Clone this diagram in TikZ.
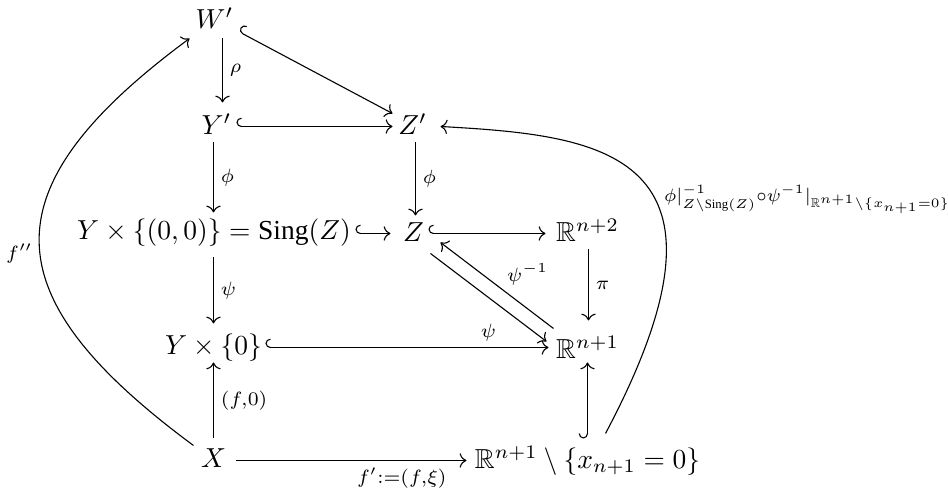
\documentclass[tikz,border=0pt]{standalone}
\usepackage{amssymb}
\usepackage{fontspec}
\setmainfont{Liberation Serif}
\usetikzlibrary{arrows.meta}

\begin{document}
\begin{tikzpicture}[
    x=0.3636pt, y=-0.3636pt,
    every node/.style={inner sep=0pt},
    lbl/.style={inner sep=2.5pt, execute at begin node=$\scriptstyle,
                execute at end node=$},
    ar/.style={->},
    hookar/.style={{Hooks[right,length=1.8pt,width=6.4pt]}->},
]
\useasboundingbox (-0.5,-0.5) rectangle (947.5,491.5);

% objects
\node (W)  at (214,18)   {$W'$};
\node (Yp) at (216,124)  {$Y'$};
\node (Zp) at (412,124)  {$Z'$};
\node (S)  at (213.5,232) {$Y\times\{(0,0)\}=\mathrm{Sing}(Z)$};
\node (Z)  at (413,232)  {$Z$};
\node (R2) at (587,230)  {$\mathbb{R}^{n+2}$};
\node (Y0) at (213,347)  {$Y\times\{0\}$};
\node (R1) at (587,347)  {$\mathbb{R}^{n+1}$};
\node (X)  at (213,458)  {$X$};
\node (Rx) at (587,460)  {$\mathbb{R}^{n+1}\setminus\{x_{n+1}=0\}$};

% top square
\draw[ar] ([shift={(8,20)}]W.center) -- node[lbl,right] {\rho} ([shift={(6,-22)}]Yp.center);
\draw[hookar] ([shift={(24,13)}]W.center) -- ([shift={(-20,-11)}]Zp.center);
\draw[hookar] ([shift={(20,2)}]Yp.center) -- ([shift={(-20,2)}]Zp.center);
\draw[ar] ([shift={(-3,18)}]Yp.center) -- node[lbl,right] {\phi} ([shift={(-0.5,-20)}]S.center);
\draw[ar] ([shift={(3,18)}]Zp.center) -- node[lbl,right] {\phi} ([shift={(2,-17)}]Z.center);

% middle row
\draw[hookar] ([shift={(141.5,1)}]S.center) -- ([shift={(-23,1)}]Z.center);
\draw[hookar] ([shift={(15,1)}]Z.center) -- ([shift={(-42,3)}]R2.center);
\draw[ar] ([shift={(1,19)}]R2.center) -- node[lbl,right] {\pi} ([shift={(1,-27)}]R1.center);
\draw[ar] ([shift={(-34,-19)}]R1.center) -- node[lbl,anchor=south west,xshift=1pt,yshift=-2.5pt] {\psi^{-1}} ([shift={(27,10)}]Z.center);
\draw[ar] ([shift={(17,21)}]Z.center) -- node[lbl,below=7pt] {\psi} ([shift={(-41,-6)}]R1.center);
\draw[ar] ([shift={(-0.5,25)}]S.center) -- node[lbl,right] {\psi} ([shift={(0,-24)}]Y0.center);

% lower square
\draw[hookar] ([shift={(52,0)}]Y0.center) -- ([shift={(-39,0)}]R1.center);
\draw[ar] ([shift={(0,-20)}]X.center) -- node[lbl,right] {(f,0)} ([shift={(0,15)}]Y0.center);
\draw[ar] ([shift={(22,2)}]X.center) -- node[lbl,below,pos=0.72] {f':=(f,\xi)} ([shift={(-121,0)}]Rx.center);
\draw[hookar] ([shift={(0,-22)}]Rx.center) -- ([shift={(0,15)}]R1.center);

% long curves
\draw[ar] ([shift={(-20,-13)}]X.center) .. controls (-10,295) and (-14,188) ..
    node[lbl,pos=0.47,left=0pt] {f''} ([shift={(-25,20)}]W.center);
\draw[ar] ([shift={(18,-27)}]Rx.center) .. controls (755,150) and (600,135) ..
    node[pos=0.42,anchor=west,xshift=3pt,scale=0.93,
         execute at begin node=$\scriptstyle,execute at end node=$]
    {\phi|^{-1}_{Z\setminus\mathrm{Sing}(Z)}\circ\psi^{-1}|_{\mathbb{R}^{n+1}\setminus\{x_{n+1}=0\}}}
    ([shift={(28,2)}]Zp.center);

\end{tikzpicture}
\end{document}
